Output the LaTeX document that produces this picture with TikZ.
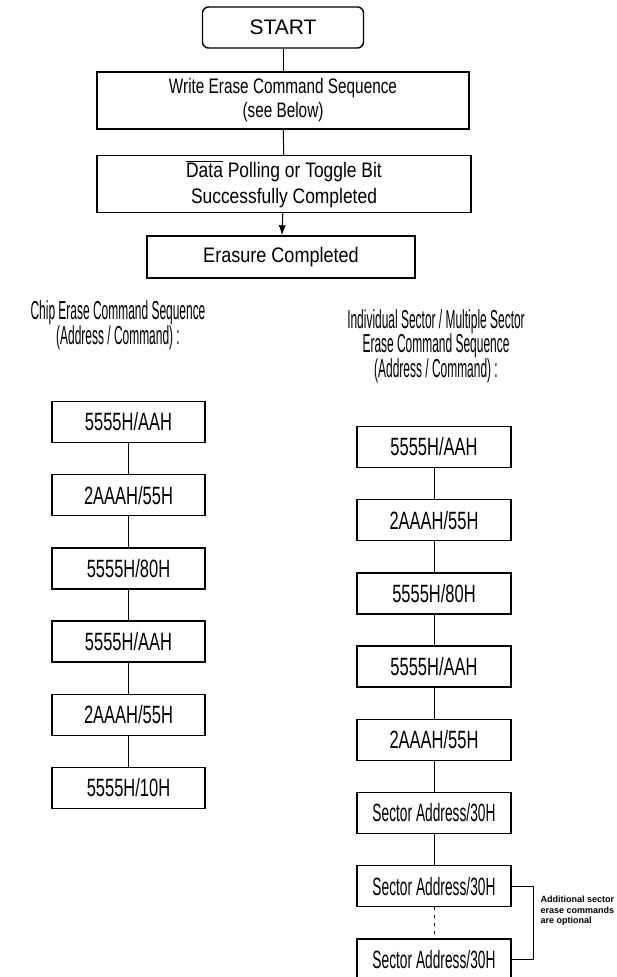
\documentclass[tikz,border=0pt]{standalone}
\usepackage{fontspec}
\setmainfont{Liberation Sans}
\newfontfamily\cmdfamily[FakeStretch=0.66]{Liberation Sans}
\newfontfamily\secfamily[FakeStretch=0.55]{Liberation Sans}
\newfontfamily\wrfamily[FakeStretch=0.73]{Liberation Sans}
\newfontfamily\polfamily[FakeStretch=0.83]{Liberation Sans}
\newfontfamily\donefamily[FakeStretch=0.86]{Liberation Sans}
\newfontfamily\headfamily[FakeStretch=0.46]{Liberation Sans}
\usetikzlibrary{arrows.meta}

\begin{document}
\begin{tikzpicture}[x=1pt, y=1pt, node distance={73.2pt}, line width=1pt,
    >={Latex[length=10pt,width=7pt]},
    main/.style = {draw, line width=1.4pt, minimum height=41pt, inner sep=0pt, font=\fontsize{21}{24}\selectfont},
    cmd/.style = {main, minimum width=153pt, font=\cmdfamily\fontsize{25}{28}\selectfont},
    sec/.style = {main, minimum width=154pt, font=\secfamily\fontsize{25}{28}\selectfont},
    head/.style = {align=center, font=\headfamily\fontsize{26}{24.5}\selectfont},
    note/.style = {align=left, inner sep=0pt, font=\bfseries\fontsize{9}{10.5}\selectfont}]
    \useasboundingbox (0,0) rectangle (616,-977);
    % Disegna i blocchi del diagramma
    \node[main, rounded corners=6pt, minimum width=161pt] (s) at (283,-27.5) {START};
    \node[main, minimum width=372pt, minimum height=57pt, align=center, font=\wrfamily\fontsize{21}{24}\selectfont] (w) at (283,-100.5) {Write Erase Command Sequence\\(see Below)};
    \node[main, minimum width=374pt, minimum height=57pt, align=center, font=\polfamily\fontsize{21}{26}\selectfont] (p) at (284,-184) {$\overline{\mbox{Data}}$ Polling or Toggle Bit\\Successfully Completed};
    \node[main, minimum width=268pt, minimum height=42pt, font=\donefamily\fontsize{21}{24}\selectfont] (e) at (281,-257) {Erasure Completed};

    \node[head] (hc) at (118,-325.5) {Chip Erase Command Sequence\\(Address / Command) :};
    \node[head] (hr) at (436,-346) {Individual Sector / Multiple Sector\\Erase Command Sequence\\(Address / Command) :};

    \node[cmd] (c1) at (128.5,-422) {5555H/AAH};
    \node[cmd] (c2) [below of = c1] {2AAAH/55H};
    \node[cmd] (c3) [below of = c2] {5555H/80H};
    \node[cmd] (c4) [below of = c3] {5555H/AAH};
    \node[cmd] (c5) [below of = c4] {2AAAH/55H};
    \node[cmd] (c6) [below of = c5] {5555H/10H};

    \node[cmd, minimum width=154pt] (r1) at (434,-447) {5555H/AAH};
    \node[cmd, minimum width=154pt] (r2) [below of = r1] {2AAAH/55H};
    \node[cmd, minimum width=154pt] (r3) [below of = r2] {5555H/80H};
    \node[cmd, minimum width=154pt] (r4) [below of = r3] {5555H/AAH};
    \node[cmd, minimum width=154pt] (r5) [below of = r4] {2AAAH/55H};
    \node[sec] (r6) [below of = r5] {Sector Address/30H};
    \node[sec] (r7) [below of = r6] {Sector Address/30H};
    \node[sec] (r8) [below of = r7] {Sector Address/30H};
    \node[note, anchor=west] (n) at (540,-911) {Additional sector\\erase commands\\are optional};

    \draw (s) -- (w);
    \draw (w) -- (p);
    \draw[->] (p) -- (e);

    \draw (c1) -- (c2);
    \draw (c2) -- (c3);
    \draw (c3) -- (c4);
    \draw (c4) -- (c5);
    \draw (c5) -- (c6);

    \draw (r1) -- (r2);
    \draw (r2) -- (r3);
    \draw (r3) -- (r4);
    \draw (r4) -- (r5);
    \draw (r5) -- (r6);
    \draw (r6) -- (r7);
    \draw[dash pattern=on 3pt off 5pt] (r7) -- (r8);
    \draw (r7.east) -- ++(22,0) |- (r8.east);
\end{tikzpicture}
\end{document}
